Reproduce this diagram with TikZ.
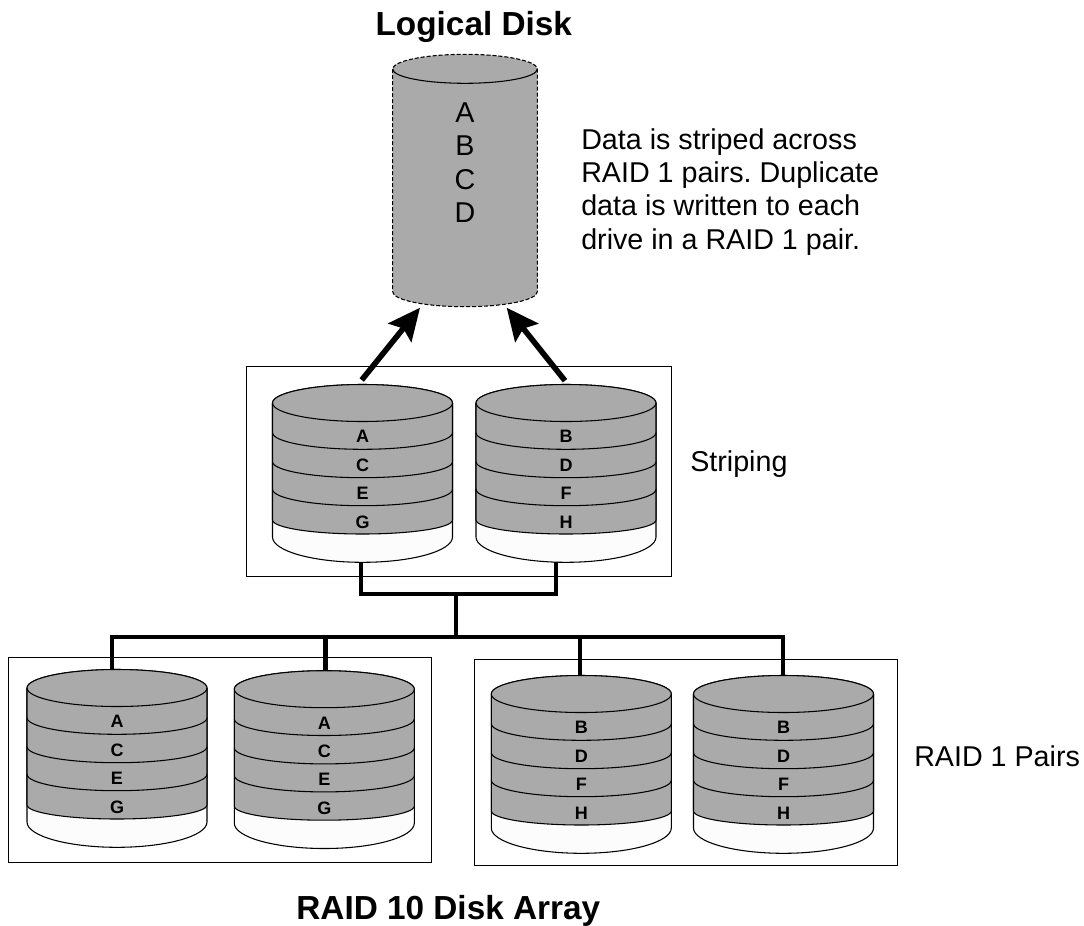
\documentclass[tikz,border=0pt]{standalone}
\usepackage{fontspec}
\setmainfont{Liberation Sans}
\usepackage{tikz}
\usetikzlibrary{arrows.meta}

\definecolor{platter}{HTML}{AAAAAA}
\definecolor{basewhite}{HTML}{FCFCFC}

\tikzset{
  rim/.style={line width=0.8pt},
  frame/.style={line width=0.6pt},
  link/.style={line width=3.3pt, line join=miter},
  up arrow/.style={line width=4.2pt, -{Stealth[length=24pt, width=22pt, inset=4pt]}},
  disk label/.style={font=\fontsize{13.5}{15}\selectfont\bfseries, inner sep=0pt},
  heading/.style={font=\fontsize{25}{30}\selectfont\bfseries, inner sep=0pt, anchor=base},
  note/.style={font=\fontsize{21.5}{25}\selectfont, inner sep=0pt, align=left, anchor=base west}
}

% lower half of a rim: ends at height #1, lowest point at height #2
\newcommand{\lowerrim}[2]{(-90, #1) .. controls (-90, {#1+(#2-#1)*0.55}) and (-49.7, #2) .. (0, #2)
                .. controls (49.7, #2) and (90, {#1+(#2-#1)*0.55}) .. (90, #1)}
\newcommand{\upperrim}{(90, 0) .. controls (90, -10.2) and (49.7, -18.5) .. (0, -18.5)
                .. controls (-49.7, -18.5) and (-90, -10.2) .. (-90, 0)}

% name, centre x, centre y of the top face, four letters
\newcommand{\raiddisk}[4]{
  \begin{scope}[shift={(#2, #3)}]
    \filldraw[rim, fill=basewhite] \lowerrim{134}{159.3} -- \upperrim -- cycle;
    \filldraw[rim, fill=platter] \lowerrim{117}{131} -- \upperrim -- cycle;
    \foreach \rimtop/\rimlow in {0/18.5, 29.7/46.3, 58.7/74.7, 86.3/102.7}
      \draw[rim] \lowerrim{\rimtop}{\rimlow};
    \foreach \letter [count=\row] in {#4}
      \node[disk label] (#1-\row) at (0, {33.7 + (\row - 1) * 28.4}) {\letter};
  \end{scope}
}

\begin{document}
\frenchspacing
\begin{tikzpicture}[x=0.75pt, y=-0.75pt]
  \useasboundingbox (0, 0) rectangle (1084, 925);

  % logical disk
  \fill[platter] (392.7, 69) -- (392.7, 291.7) .. controls (392.7, 300) and (425, 306.7) .. (465, 306.7)
                .. controls (505, 306.7) and (537.3, 300) .. (537.3, 291.7) -- (537.3, 69)
                .. controls (537.3, 61) and (505, 54.3) .. (465, 54.3)
                .. controls (425, 54.3) and (392.7, 61) .. (392.7, 69);
  \draw[rim, dash pattern=on 3pt off 1.5pt] (392.7, 69) -- (392.7, 291.7) .. controls (392.7, 300) and (425, 306.7) .. (465, 306.7)
                .. controls (505, 306.7) and (537.3, 300) .. (537.3, 291.7) -- (537.3, 69)
                .. controls (537.3, 61) and (505, 54.3) .. (465, 54.3)
                .. controls (425, 54.3) and (392.7, 61) .. (392.7, 69);
  \draw[rim] (392.7, 69) .. controls (392.7, 77) and (425, 83.3) .. (465, 83.3)
                .. controls (505, 83.3) and (537.3, 77) .. (537.3, 69);
  \foreach \letter/\ypos in {A/113, B/146, C/180, D/213}
    \node[font=\fontsize{21.5}{25}\selectfont, inner sep=0pt] (logical\letter) at (465, \ypos) {\letter};

  \node[heading] (logicalTitle) at (473.8, 35) {Logical Disk};
  \node[note] (stripeNote) at (581, 249.3) {Data is striped across\\RAID 1 pairs. Duplicate\\data is written to each\\drive in a RAID 1 pair.};

  % frames
  \draw[frame] (246.7, 366.7) rectangle (671, 576);
  \draw[frame] (8.3, 657.3) rectangle (431, 862.3);
  \draw[frame] (474, 659.3) rectangle (897.3, 865);

  \raiddisk{stripeA}{362.5}{403}{A, C, E, G}
  \raiddisk{stripeB}{566}{403}{B, D, F, H}
  \raiddisk{pairA}{117}{688}{A, C, E, G}
  \raiddisk{pairB}{324.3}{689.2}{A, C, E, G}
  \raiddisk{pairC}{581.3}{694}{B, D, F, H}
  \raiddisk{pairD}{783.5}{694}{B, D, F, H}

  \node[note] (stripingLabel) at (690, 471.7) {Striping};
  \node[note] (pairsLabel) at (914, 766.7) {RAID 1 Pairs};
  \node[heading] (arrayTitle) at (448.3, 919) {RAID 10 Disk Array};

  % connectors
  \coordinate (tailA) at (361.7, 380);
  \coordinate (tailB) at (565, 380.7);
  \coordinate (tipA) at (420, 307.7);
  \coordinate (tipB) at (506.7, 307.7);
  \draw[up arrow] (tailA) -- (tipA);
  \draw[up arrow] (tailB) -- (tipB);

  \coordinate (baseA) at (361, 562);
  \coordinate (baseB) at (556, 562);
  \coordinate (joinA) at (361, 594);
  \coordinate (joinB) at (556, 594);
  \coordinate (stem) at (455.7, 594);
  \coordinate (busMid) at (455.7, 636.7);
  \draw[link] (baseA) -- (joinA) -- (joinB) -- (baseB);
  \draw[link] (stem) -- (busMid);

  \coordinate (busA) at (112, 636.7);
  \coordinate (busB) at (325.3, 636.7);
  \coordinate (busC) at (580, 636.7);
  \coordinate (busD) at (782.7, 636.7);
  \coordinate (topA) at (112, 669.5);
  \coordinate (topB) at (325.3, 670.7);
  \coordinate (topC) at (580, 675.5);
  \coordinate (topD) at (782.7, 675.5);
  \draw[link] (topA) -- (busA) -- (busD) -- (topD);
  \draw[link] (busB) -- (topB);
  \draw[link] (busC) -- (topC);
\end{tikzpicture}
\end{document}
